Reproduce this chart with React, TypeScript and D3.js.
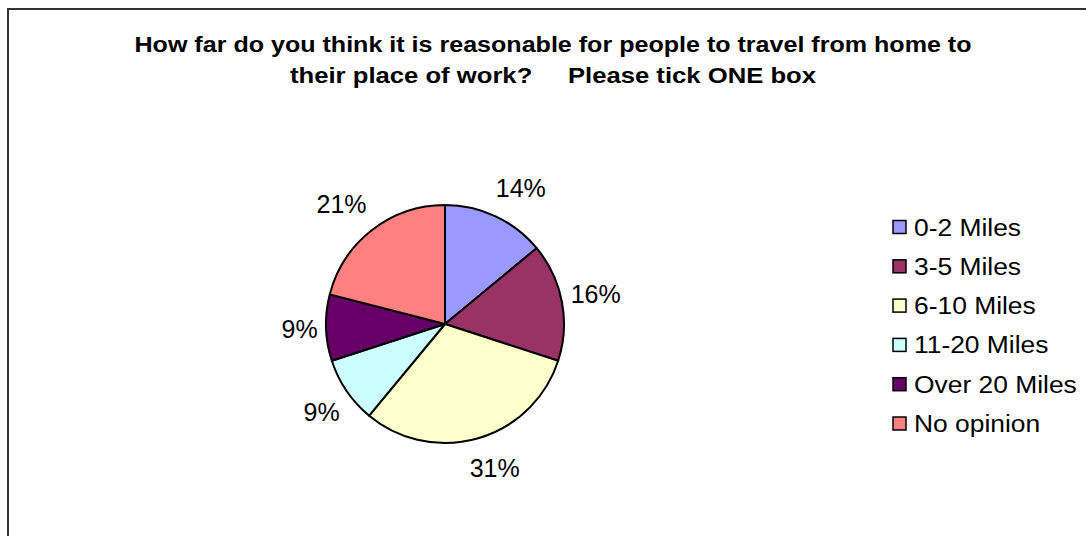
import React from "react";
import * as d3 from "d3";

const categories = ["0-2 Miles", "3-5 Miles", "6-10 Miles", "11-20 Miles", "Over 20 Miles", "No opinion"];
const values = [14, 16, 31, 9, 9, 21];
const colors = ["#9999FF", "#993366", "#FFFFCC", "#CCFFFF", "#660066", "#FF8080"];
const titleLines = [
  "How far do you think it is reasonable for people to travel from home to",
  "their place of work?\u00A0\u00A0\u00A0\u00A0\u00A0Please tick ONE box",
];
const titleWidths = [837, 526];

const W = 1086;
const H = 536;
const cx = 445;
const cy = 324;
const R = 119;
const FONT = "'Liberation Sans', Arial, sans-serif";
const LABEL_SIZE = 25;

export default function App() {
  const total = d3.sum(values);
  const pie = d3.pie<number>().sort(null).value((d) => d)(values);
  const arc = d3.arc<d3.PieArcDatum<number>>().innerRadius(0).outerRadius(R);

  const legendY = d3.scalePoint<string>().domain(categories).range([227, 423.5]);
  const clamp = (t: number) => Math.max(-1, Math.min(1, t));

  return (
    <svg
      width={W}
      height={H}
      style={{ position: "absolute", left: 0, top: 0, display: "block", background: "#fff" }}
      fontFamily={FONT}
    >
      <rect x={8} y={9} width={1200} height={700} fill="#fff" stroke="#333" strokeWidth={2} />
      {titleLines.map((t, i) => (
        <text
          key={i}
          x={553}
          y={52 + i * 31}
          textAnchor="middle"
          fontSize={22}
          fontWeight="bold"
          fill="#000"
          textLength={titleWidths[i]}
          lengthAdjust="spacingAndGlyphs"
        >
          {t}
        </text>
      ))}
      <g transform={`translate(${cx},${cy})`}>
        {pie.map((p, i) => (
          <path key={i} d={arc(p) || ""} fill={colors[i]} stroke="#000" strokeWidth={2} strokeLinejoin="round" />
        ))}
        {pie.map((p, i) => {
          const mid = (p.startAngle + p.endAngle) / 2;
          const s = Math.sin(mid);
          const c = -Math.cos(mid);
          const label = `${Math.round((values[i] / total) * 100)}%`;
          const w = label.length === 2 ? 35 : 50;
          const h = 19;
          const Ax = 128;
          const Ay = 140;
          const x = Ax * s + (w / 2) * clamp(2 * s);
          const y = Ay * c + (h / 2) * clamp(2 * c);
          return (
            <text
              key={"l" + i}
              x={x}
              y={y}
              textAnchor="middle"
              dominantBaseline="central"
              fontSize={LABEL_SIZE}
              fill="#000"
            >
              {label}
            </text>
          );
        })}
      </g>
      <g>
        {categories.map((c, i) => (
          <g key={c} transform={`translate(0,${legendY(c)})`}>
            <rect x={893} y={-6.5} width={13} height={13} fill={colors[i]} stroke="#000" strokeWidth={1.5} />
            <text
              transform="translate(914,0) scale(1.1,1)"
              x={0}
              y={0}
              dominantBaseline="central"
              fontSize={24}
              fill="#000"
            >
              {c}
            </text>
          </g>
        ))}
      </g>
    </svg>
  );
}
